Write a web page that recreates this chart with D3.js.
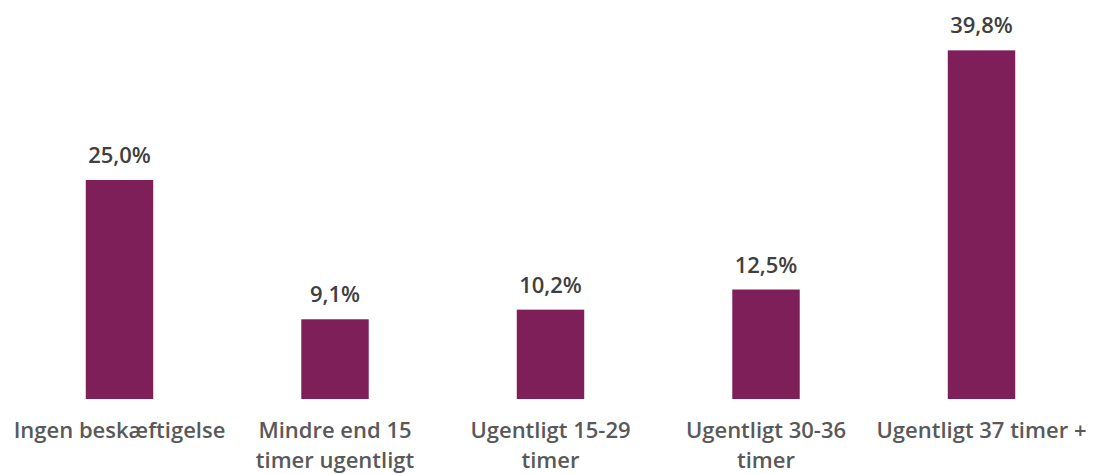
<!DOCTYPE html>
<html>
<head>
<meta charset="utf-8">
<title>Beskæftigelse</title>
<style type="text/css">
body { margin: 0; background: #fff; }
svg text { font-family: "Open Sans", sans-serif; font-weight: 600; }
</style>
</head>
<body>
<svg id="chart"></svg>

<script src="https://cdn.jsdelivr.net/npm/d3@7"></script>
<script type="text/javascript">
const WIDTH = 1093;
const HEIGHT = 474;
const BASELINE = 399;

const categories = ["Ingen beskæftigelse", "Mindre end 15\ntimer ugentligt", "Ugentligt 15-29\ntimer", "Ugentligt 30-36\ntimer", "Ugentligt 37 timer +"];
const values = [25.0, 9.1, 10.2, 12.5, 39.8];
const valueLabels = ["25,0%", "9,1%", "10,2%", "12,5%", "39,8%"];

const x = d3.scaleBand()
    .domain(categories)
    .range([11.75, 1089.25])
    .paddingInner(0.687)
    .paddingOuter(0.3435);

const y = d3.scaleLinear()
    .domain([0, 40])
    .range([BASELINE, BASELINE - 350.4]);

const svg = d3.select("#chart")
    .attr("width", WIDTH)
    .attr("height", HEIGHT);

// bars
svg.append("g").selectAll("rect")
    .data(categories)
    .join("rect")
    .attr("x", d => x(d))
    .attr("width", x.bandwidth())
    .attr("y", (d, i) => y(values[i]))
    .attr("height", (d, i) => y(0) - y(values[i]))
    .attr("fill", "#7f1f5a");

// value labels
svg.append("g").selectAll("text")
    .data(categories)
    .join("text")
    .attr("x", d => x(d) + x.bandwidth() / 2)
    .attr("y", (d, i) => y(values[i]) - 17)
    .attr("text-anchor", "middle")
    .attr("fill", "#404040")
    .attr("font-size", 22)
    .text((d, i) => valueLabels[i]);

// category axis
const axis = svg.append("g")
    .attr("transform", `translate(0,${BASELINE})`)
    .call(d3.axisBottom(x).tickSize(0).tickPadding(0).tickFormat(""));
axis.select(".domain").remove();

axis.selectAll(".tick").each(function (d) {
    const t = d3.select(this).append("text")
        .attr("text-anchor", "middle")
        .attr("fill", "#595959")
        .attr("font-size", 22)
        .attr("y", 39);
    d.split("\n").forEach((line, i) => {
        t.append("tspan")
            .attr("x", 0)
            .attr("dy", i ? 30 : 0)
            .text(line);
    });
});
</script>
</body>
</html>
